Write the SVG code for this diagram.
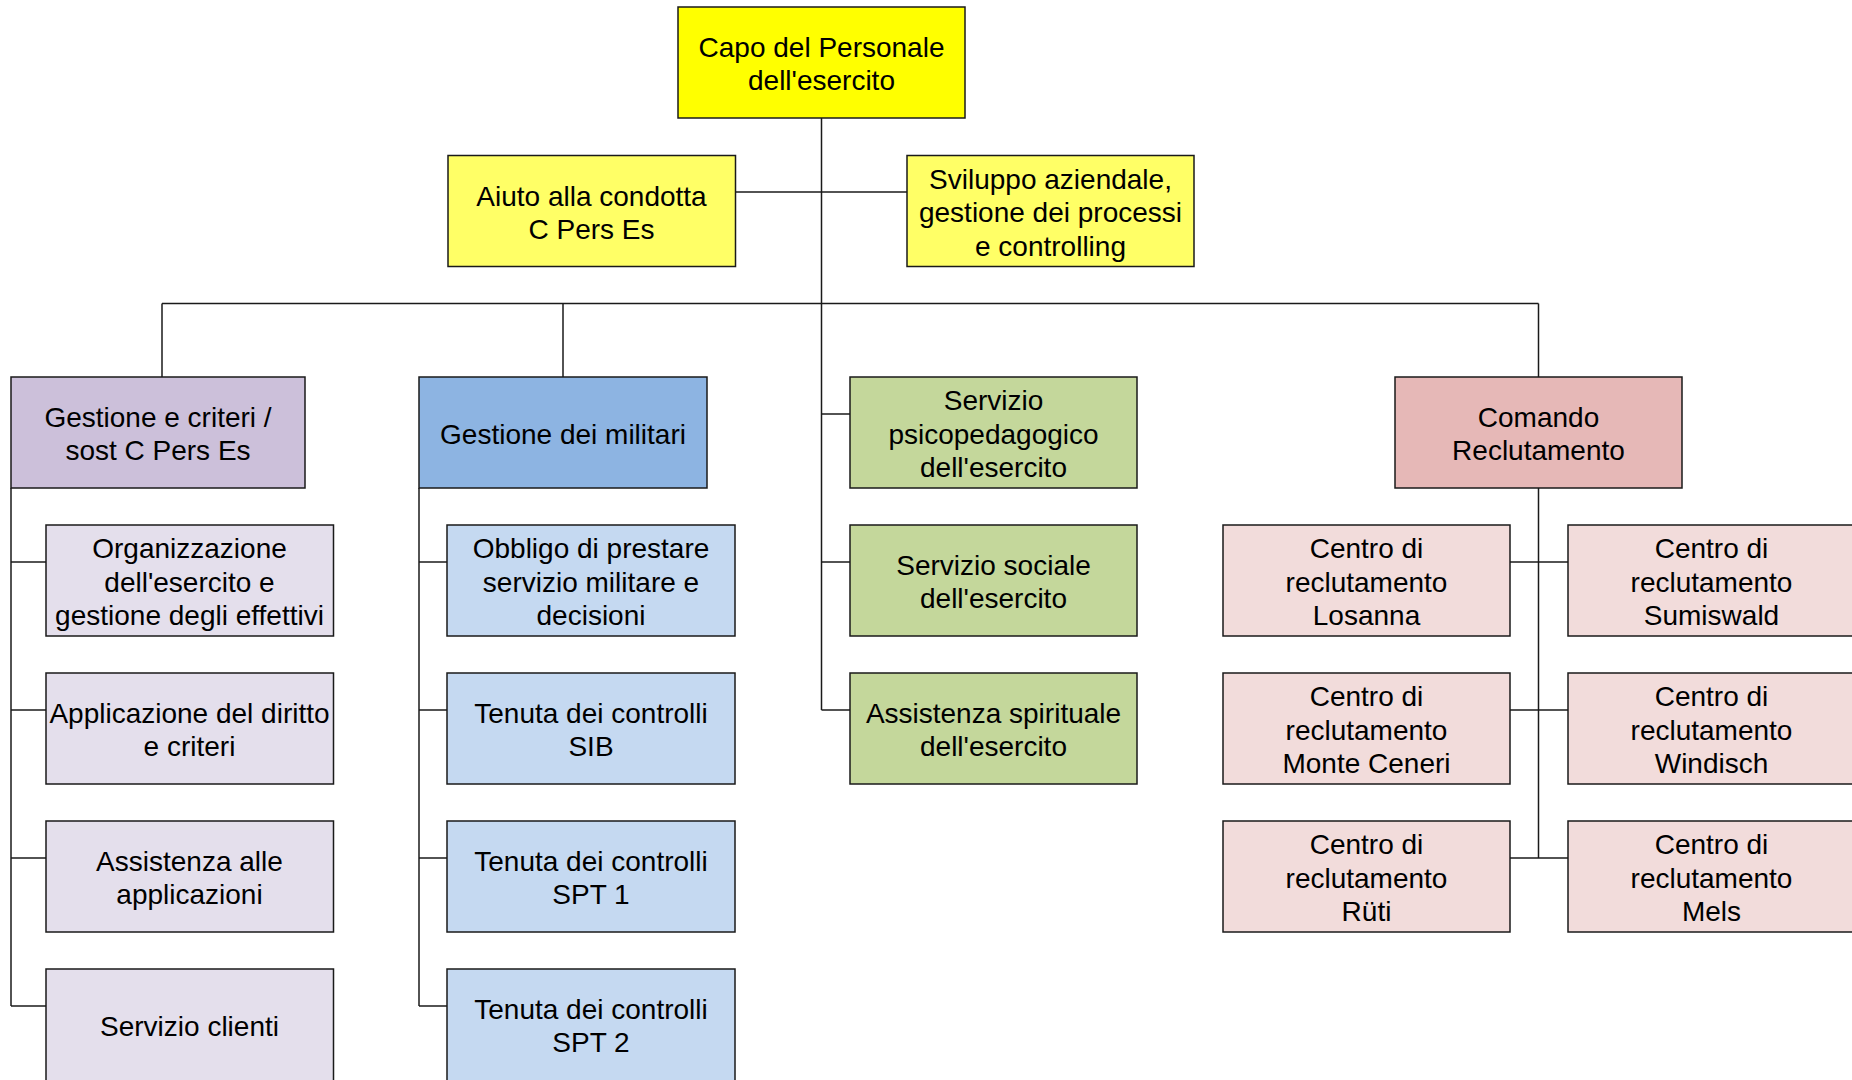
<svg xmlns="http://www.w3.org/2000/svg" width="1852" height="1080" viewBox="0 0 1852 1080">
<style>
.n rect{stroke:#1a1a1a;stroke-width:1.5}
text{font-family:"Liberation Sans",Arial,sans-serif;font-size:28px;fill:#000;text-anchor:middle}
.n text{transform:translateY(1px)}
.c line{stroke:#1a1a1a;stroke-width:1.5}
.y1{fill:#FFFF00}.y2{fill:#FFFF66}
.l1{fill:#CCC0DA}.l2{fill:#E4DFEC}
.b1{fill:#8DB4E2}.b2{fill:#C5D9F1}
.g{fill:#C4D79B}
.p1{fill:#E6B8B7}.p2{fill:#F2DCDB}
</style>
<rect width="1852" height="1080" fill="#fff"/>
<g class="c" id="connectors">
<line x1="821.5" y1="118" x2="821.5" y2="710"/>
<line x1="735.5" y1="192" x2="907" y2="192"/>
<line x1="162" y1="303.5" x2="1538.5" y2="303.5"/>
<line x1="162" y1="303.5" x2="162" y2="377"/>
<line x1="563" y1="303.5" x2="563" y2="377"/>
<line x1="1538.5" y1="303.5" x2="1538.5" y2="377"/>
<line x1="11" y1="488" x2="11" y2="1006"/>
<line x1="11" y1="562" x2="46" y2="562"/>
<line x1="11" y1="710" x2="46" y2="710"/>
<line x1="11" y1="858" x2="46" y2="858"/>
<line x1="11" y1="1006" x2="46" y2="1006"/>
<line x1="419" y1="488" x2="419" y2="1006"/>
<line x1="419" y1="562" x2="447" y2="562"/>
<line x1="419" y1="710" x2="447" y2="710"/>
<line x1="419" y1="858" x2="447" y2="858"/>
<line x1="419" y1="1006" x2="447" y2="1006"/>
<line x1="821.5" y1="414" x2="850" y2="414"/>
<line x1="821.5" y1="562" x2="850" y2="562"/>
<line x1="821.5" y1="710" x2="850" y2="710"/>
<line x1="1538.5" y1="488" x2="1538.5" y2="858"/>
<line x1="1510" y1="562" x2="1568" y2="562"/>
<line x1="1510" y1="710" x2="1568" y2="710"/>
<line x1="1510" y1="858" x2="1568" y2="858"/>
</g>
<g class="n">
<g id="capo"><rect class="y1" x="678" y="7" width="287" height="111"/><text x="821.5" y="56">Capo del Personale</text><text x="821.5" y="89">dell'esercito</text></g>
<g id="aiuto"><rect class="y2" x="448" y="155.5" width="287.5" height="111"/><text x="591.5" y="204.5">Aiuto alla condotta</text><text x="591.5" y="238">C Pers Es</text></g>
<g id="sviluppo"><rect class="y2" x="907" y="155.5" width="287" height="111"/><text x="1050.5" y="187.5">Sviluppo aziendale,</text><text x="1050.5" y="221">gestione dei processi</text><text x="1050.5" y="254.5">e controlling</text></g>

<g id="gestione-criteri"><rect class="l1" x="11" y="377" width="294" height="111"/><text x="158" y="426">Gestione e criteri /</text><text x="158" y="459">sost C Pers Es</text></g>
<g id="organizzazione"><rect class="l2" x="46" y="525" width="287.5" height="111"/><text x="189.5" y="557">Organizzazione</text><text x="189.5" y="590.5">dell'esercito e</text><text x="189.5" y="624">gestione degli effettivi</text></g>
<g id="applicazione"><rect class="l2" x="46" y="673" width="287.5" height="111"/><text x="189.5" y="722">Applicazione del diritto</text><text x="189.5" y="755">e criteri</text></g>
<g id="assistenza-app"><rect class="l2" x="46" y="821" width="287.5" height="111"/><text x="189.5" y="870">Assistenza alle</text><text x="189.5" y="903">applicazioni</text></g>
<g id="servizio-clienti"><rect class="l2" x="46" y="969" width="287.5" height="116"/><text x="189.5" y="1034.5">Servizio clienti</text></g>

<g id="gestione-militari"><rect class="b1" x="419" y="377" width="288" height="111"/><text x="563" y="442.5">Gestione dei militari</text></g>
<g id="obbligo"><rect class="b2" x="447" y="525" width="288" height="111"/><text x="591" y="557">Obbligo di prestare</text><text x="591" y="590.5">servizio militare e</text><text x="591" y="624">decisioni</text></g>
<g id="sib"><rect class="b2" x="447" y="673" width="288" height="111"/><text x="591" y="722">Tenuta dei controlli</text><text x="591" y="755">SIB</text></g>
<g id="spt1"><rect class="b2" x="447" y="821" width="288" height="111"/><text x="591" y="870">Tenuta dei controlli</text><text x="591" y="903">SPT 1</text></g>
<g id="spt2"><rect class="b2" x="447" y="969" width="288" height="116"/><text x="591" y="1018">Tenuta dei controlli</text><text x="591" y="1051">SPT 2</text></g>

<g id="psicopedagogico"><rect class="g" x="850" y="377" width="287" height="111"/><text x="993.5" y="409">Servizio</text><text x="993.5" y="442.5">psicopedagogico</text><text x="993.5" y="476">dell'esercito</text></g>
<g id="sociale"><rect class="g" x="850" y="525" width="287" height="111"/><text x="993.5" y="574">Servizio sociale</text><text x="993.5" y="607">dell'esercito</text></g>
<g id="spirituale"><rect class="g" x="850" y="673" width="287" height="111"/><text x="993.5" y="722">Assistenza spirituale</text><text x="993.5" y="755">dell'esercito</text></g>

<g id="comando"><rect class="p1" x="1395" y="377" width="287" height="111"/><text x="1538.5" y="426">Comando</text><text x="1538.5" y="459">Reclutamento</text></g>
<g id="losanna"><rect class="p2" x="1223" y="525" width="287" height="111"/><text x="1366.5" y="557">Centro di</text><text x="1366.5" y="590.5">reclutamento</text><text x="1366.5" y="624">Losanna</text></g>
<g id="sumiswald"><rect class="p2" x="1568" y="525" width="290" height="111"/><text x="1711.5" y="557">Centro di</text><text x="1711.5" y="590.5">reclutamento</text><text x="1711.5" y="624">Sumiswald</text></g>
<g id="monte-ceneri"><rect class="p2" x="1223" y="673" width="287" height="111"/><text x="1366.5" y="705">Centro di</text><text x="1366.5" y="738.5">reclutamento</text><text x="1366.5" y="772">Monte Ceneri</text></g>
<g id="windisch"><rect class="p2" x="1568" y="673" width="290" height="111"/><text x="1711.5" y="705">Centro di</text><text x="1711.5" y="738.5">reclutamento</text><text x="1711.5" y="772">Windisch</text></g>
<g id="ruti"><rect class="p2" x="1223" y="821" width="287" height="111"/><text x="1366.5" y="853">Centro di</text><text x="1366.5" y="886.5">reclutamento</text><text x="1366.5" y="920">Rüti</text></g>
<g id="mels"><rect class="p2" x="1568" y="821" width="290" height="111"/><text x="1711.5" y="853">Centro di</text><text x="1711.5" y="886.5">reclutamento</text><text x="1711.5" y="920">Mels</text></g>
</g>
</svg>
